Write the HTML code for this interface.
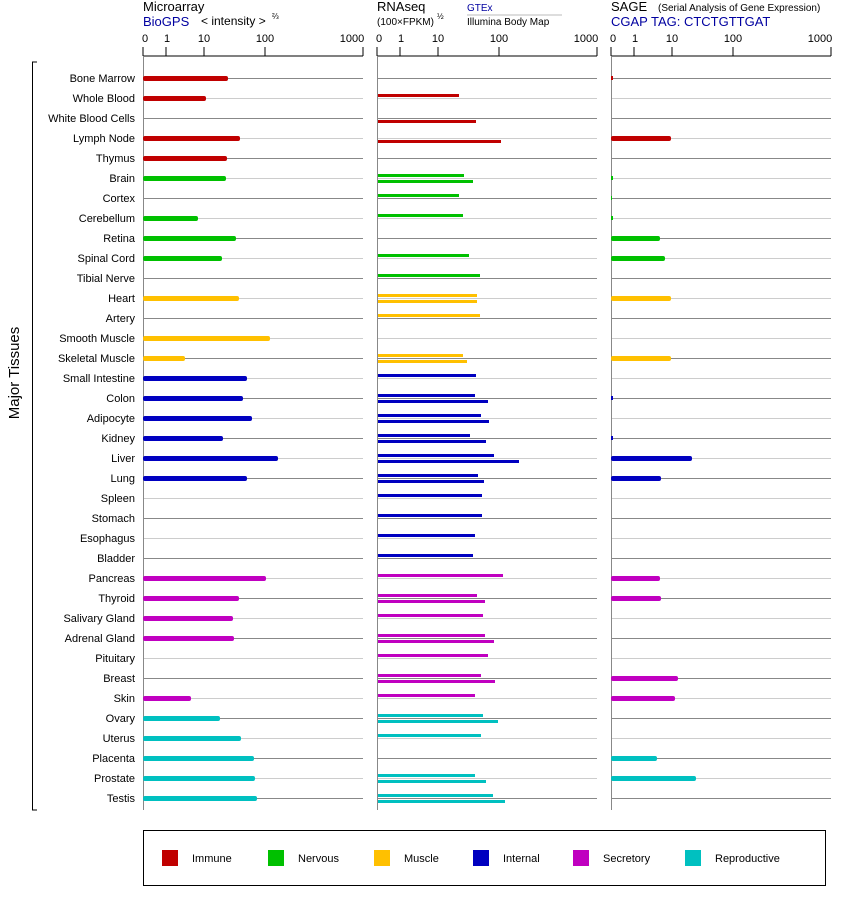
<!DOCTYPE html>
<html><head><meta charset="utf-8"><style>
body{margin:0;background:#fff}
svg{display:block;font-family:"Liberation Sans",Arial,sans-serif}
.l{font-size:11px;text-anchor:end}
.t{font-size:11px;text-anchor:middle}
</style></head><body>
<svg width="842" height="900" viewBox="0 0 842 900">
<rect width="842" height="900" fill="#fff"/>
<!-- headers -->
<text x="143" y="11" font-size="13">Microarray</text>
<text x="143" y="26" font-size="13" fill="#0000a0">BioGPS</text>
<text x="201" y="25" font-size="12">&lt; intensity &gt;</text>
<text x="272" y="19" font-size="8">⅔</text>
<text x="377" y="11" font-size="13">RNAseq</text>
<text x="377" y="25" font-size="10">(100×FPKM)</text>
<text x="437" y="19" font-size="8">½</text>
<text x="467" y="11" font-size="10" fill="#0000a0">GTEx</text>
<line x1="467" y1="15" x2="562" y2="15" stroke="#bbb"/>
<text x="467" y="25" font-size="10">Illumina Body Map</text>
<text x="611" y="11" font-size="13">SAGE</text>
<text x="658" y="11" font-size="10">(Serial Analysis of Gene Expression)</text>
<text x="611" y="26" font-size="13" fill="#0000a0">CGAP TAG: CTCTGTTGAT</text>
<!-- axes ticks -->
<g stroke="#000" fill="none">
<path d="M143 56H363M143 47V56M166 47V56M204 47V56M265 47V56M363 47V56"/>
<path d="M377 56H597M377 47V56M400 47V56M438 47V56M499 47V56M597 47V56"/>
<path d="M611 56H831M611 47V56M634 47V56M672 47V56M733 47V56M831 47V56"/>
</g>
<g class="t">
<text class="t" x="145" y="42">0</text><text class="t" x="167" y="42">1</text><text class="t" x="204" y="42">10</text><text class="t" x="265" y="42">100</text><text class="t" x="352" y="42">1000</text>
<text class="t" x="379" y="42">0</text><text class="t" x="401" y="42">1</text><text class="t" x="438" y="42">10</text><text class="t" x="499" y="42">100</text><text class="t" x="586" y="42">1000</text>
<text class="t" x="613" y="42">0</text><text class="t" x="635" y="42">1</text><text class="t" x="672" y="42">10</text><text class="t" x="733" y="42">100</text><text class="t" x="820" y="42">1000</text>
</g>
<!-- gridlines -->
<g stroke-width="1">
<path stroke="#888" d="M143 78.5H363M377 78.5H597M611 78.5H831M143 118.5H363M377 118.5H597M611 118.5H831M143 158.5H363M377 158.5H597M611 158.5H831M143 198.5H363M377 198.5H597M611 198.5H831M143 238.5H363M377 238.5H597M611 238.5H831M143 278.5H363M377 278.5H597M611 278.5H831M143 318.5H363M377 318.5H597M611 318.5H831M143 358.5H363M377 358.5H597M611 358.5H831M143 398.5H363M377 398.5H597M611 398.5H831M143 438.5H363M377 438.5H597M611 438.5H831M143 478.5H363M377 478.5H597M611 478.5H831M143 518.5H363M377 518.5H597M611 518.5H831M143 558.5H363M377 558.5H597M611 558.5H831M143 598.5H363M377 598.5H597M611 598.5H831M143 638.5H363M377 638.5H597M611 638.5H831M143 678.5H363M377 678.5H597M611 678.5H831M143 718.5H363M377 718.5H597M611 718.5H831M143 758.5H363M377 758.5H597M611 758.5H831M143 798.5H363M377 798.5H597M611 798.5H831"/>
<path stroke="#ccc" d="M143 98.5H363M377 98.5H597M611 98.5H831M143 138.5H363M377 138.5H597M611 138.5H831M143 178.5H363M377 178.5H597M611 178.5H831M143 218.5H363M377 218.5H597M611 218.5H831M143 258.5H363M377 258.5H597M611 258.5H831M143 298.5H363M377 298.5H597M611 298.5H831M143 338.5H363M377 338.5H597M611 338.5H831M143 378.5H363M377 378.5H597M611 378.5H831M143 418.5H363M377 418.5H597M611 418.5H831M143 458.5H363M377 458.5H597M611 458.5H831M143 498.5H363M377 498.5H597M611 498.5H831M143 538.5H363M377 538.5H597M611 538.5H831M143 578.5H363M377 578.5H597M611 578.5H831M143 618.5H363M377 618.5H597M611 618.5H831M143 658.5H363M377 658.5H597M611 658.5H831M143 698.5H363M377 698.5H597M611 698.5H831M143 738.5H363M377 738.5H597M611 738.5H831M143 778.5H363M377 778.5H597M611 778.5H831"/>
<path stroke="#888" d="M143.5 56V810M377.5 56V810M611.5 56V810"/>
</g>
<!-- bracket and title -->
<path d="M37 62H32.5V810H37" stroke="#000" fill="none"/>
<text x="19" y="373" font-size="15" text-anchor="middle" transform="rotate(-90 19 373)">Major Tissues</text>
<!-- labels -->
<g>
<text class="l" x="135" y="82">Bone Marrow</text>
<text class="l" x="135" y="102">Whole Blood</text>
<text class="l" x="135" y="122">White Blood Cells</text>
<text class="l" x="135" y="142">Lymph Node</text>
<text class="l" x="135" y="162">Thymus</text>
<text class="l" x="135" y="182">Brain</text>
<text class="l" x="135" y="202">Cortex</text>
<text class="l" x="135" y="222">Cerebellum</text>
<text class="l" x="135" y="242">Retina</text>
<text class="l" x="135" y="262">Spinal Cord</text>
<text class="l" x="135" y="282">Tibial Nerve</text>
<text class="l" x="135" y="302">Heart</text>
<text class="l" x="135" y="322">Artery</text>
<text class="l" x="135" y="342">Smooth Muscle</text>
<text class="l" x="135" y="362">Skeletal Muscle</text>
<text class="l" x="135" y="382">Small Intestine</text>
<text class="l" x="135" y="402">Colon</text>
<text class="l" x="135" y="422">Adipocyte</text>
<text class="l" x="135" y="442">Kidney</text>
<text class="l" x="135" y="462">Liver</text>
<text class="l" x="135" y="482">Lung</text>
<text class="l" x="135" y="502">Spleen</text>
<text class="l" x="135" y="522">Stomach</text>
<text class="l" x="135" y="542">Esophagus</text>
<text class="l" x="135" y="562">Bladder</text>
<text class="l" x="135" y="582">Pancreas</text>
<text class="l" x="135" y="602">Thyroid</text>
<text class="l" x="135" y="622">Salivary Gland</text>
<text class="l" x="135" y="642">Adrenal Gland</text>
<text class="l" x="135" y="662">Pituitary</text>
<text class="l" x="135" y="682">Breast</text>
<text class="l" x="135" y="702">Skin</text>
<text class="l" x="135" y="722">Ovary</text>
<text class="l" x="135" y="742">Uterus</text>
<text class="l" x="135" y="762">Placenta</text>
<text class="l" x="135" y="782">Prostate</text>
<text class="l" x="135" y="802">Testis</text>
</g>
<!-- microarray bars -->
<g>
<rect x="143" y="76" width="85" height="5" rx="2" fill="#c00000"/>
<rect x="143" y="96" width="63" height="5" rx="2" fill="#c00000"/>
<rect x="143" y="136" width="97" height="5" rx="2" fill="#c00000"/>
<rect x="143" y="156" width="84" height="5" rx="2" fill="#c00000"/>
<rect x="143" y="176" width="83" height="5" rx="2" fill="#00c000"/>
<rect x="143" y="216" width="55" height="5" rx="2" fill="#00c000"/>
<rect x="143" y="236" width="93" height="5" rx="2" fill="#00c000"/>
<rect x="143" y="256" width="79" height="5" rx="2" fill="#00c000"/>
<rect x="143" y="296" width="96" height="5" rx="2" fill="#ffc000"/>
<rect x="143" y="336" width="127" height="5" rx="2" fill="#ffc000"/>
<rect x="143" y="356" width="42" height="5" rx="2" fill="#ffc000"/>
<rect x="143" y="376" width="104" height="5" rx="2" fill="#0000c0"/>
<rect x="143" y="396" width="100" height="5" rx="2" fill="#0000c0"/>
<rect x="143" y="416" width="109" height="5" rx="2" fill="#0000c0"/>
<rect x="143" y="436" width="80" height="5" rx="2" fill="#0000c0"/>
<rect x="143" y="456" width="135" height="5" rx="2" fill="#0000c0"/>
<rect x="143" y="476" width="104" height="5" rx="2" fill="#0000c0"/>
<rect x="143" y="576" width="123" height="5" rx="2" fill="#c000c0"/>
<rect x="143" y="596" width="96" height="5" rx="2" fill="#c000c0"/>
<rect x="143" y="616" width="90" height="5" rx="2" fill="#c000c0"/>
<rect x="143" y="636" width="91" height="5" rx="2" fill="#c000c0"/>
<rect x="143" y="696" width="48" height="5" rx="2" fill="#c000c0"/>
<rect x="143" y="716" width="77" height="5" rx="2" fill="#00c0c0"/>
<rect x="143" y="736" width="98" height="5" rx="2" fill="#00c0c0"/>
<rect x="143" y="756" width="111" height="5" rx="2" fill="#00c0c0"/>
<rect x="143" y="776" width="112" height="5" rx="2" fill="#00c0c0"/>
<rect x="143" y="796" width="114" height="5" rx="2" fill="#00c0c0"/>
</g>
<!-- RNAseq bars -->
<g>
<rect x="378" y="94" width="81" height="3" fill="#c00000"/>
<rect x="378" y="120" width="98" height="3" fill="#c00000"/>
<rect x="378" y="140" width="123" height="3" fill="#c00000"/>
<rect x="378" y="174" width="86" height="3" fill="#00c000"/>
<rect x="378" y="180" width="95" height="3" fill="#00c000"/>
<rect x="378" y="194" width="81" height="3" fill="#00c000"/>
<rect x="378" y="214" width="85" height="3" fill="#00c000"/>
<rect x="378" y="254" width="91" height="3" fill="#00c000"/>
<rect x="378" y="274" width="102" height="3" fill="#00c000"/>
<rect x="378" y="294" width="99" height="3" fill="#ffc000"/>
<rect x="378" y="300" width="99" height="3" fill="#ffc000"/>
<rect x="378" y="314" width="102" height="3" fill="#ffc000"/>
<rect x="378" y="354" width="85" height="3" fill="#ffc000"/>
<rect x="378" y="360" width="89" height="3" fill="#ffc000"/>
<rect x="378" y="374" width="98" height="3" fill="#0000c0"/>
<rect x="378" y="394" width="97" height="3" fill="#0000c0"/>
<rect x="378" y="400" width="110" height="3" fill="#0000c0"/>
<rect x="378" y="414" width="103" height="3" fill="#0000c0"/>
<rect x="378" y="420" width="111" height="3" fill="#0000c0"/>
<rect x="378" y="434" width="92" height="3" fill="#0000c0"/>
<rect x="378" y="440" width="108" height="3" fill="#0000c0"/>
<rect x="378" y="454" width="116" height="3" fill="#0000c0"/>
<rect x="378" y="460" width="141" height="3" fill="#0000c0"/>
<rect x="378" y="474" width="100" height="3" fill="#0000c0"/>
<rect x="378" y="480" width="106" height="3" fill="#0000c0"/>
<rect x="378" y="494" width="104" height="3" fill="#0000c0"/>
<rect x="378" y="514" width="104" height="3" fill="#0000c0"/>
<rect x="378" y="534" width="97" height="3" fill="#0000c0"/>
<rect x="378" y="554" width="95" height="3" fill="#0000c0"/>
<rect x="378" y="574" width="125" height="3" fill="#c000c0"/>
<rect x="378" y="594" width="99" height="3" fill="#c000c0"/>
<rect x="378" y="600" width="107" height="3" fill="#c000c0"/>
<rect x="378" y="614" width="105" height="3" fill="#c000c0"/>
<rect x="378" y="634" width="107" height="3" fill="#c000c0"/>
<rect x="378" y="640" width="116" height="3" fill="#c000c0"/>
<rect x="378" y="654" width="110" height="3" fill="#c000c0"/>
<rect x="378" y="674" width="103" height="3" fill="#c000c0"/>
<rect x="378" y="680" width="117" height="3" fill="#c000c0"/>
<rect x="378" y="694" width="97" height="3" fill="#c000c0"/>
<rect x="378" y="714" width="105" height="3" fill="#00c0c0"/>
<rect x="378" y="720" width="120" height="3" fill="#00c0c0"/>
<rect x="378" y="734" width="103" height="3" fill="#00c0c0"/>
<rect x="378" y="774" width="97" height="3" fill="#00c0c0"/>
<rect x="378" y="780" width="108" height="3" fill="#00c0c0"/>
<rect x="378" y="794" width="115" height="3" fill="#00c0c0"/>
<rect x="378" y="800" width="127" height="3" fill="#00c0c0"/>
</g>
<!-- SAGE bars -->
<g>
<rect x="611" y="76" width="2" height="4" fill="#c00000"/>
<rect x="611" y="136" width="60" height="5" rx="2" fill="#c00000"/>
<rect x="611" y="176" width="2" height="4" fill="#00c000"/>
<rect x="611" y="196" width="1" height="4" fill="#00c000"/>
<rect x="611" y="216" width="2" height="4" fill="#00c000"/>
<rect x="611" y="236" width="49" height="5" rx="2" fill="#00c000"/>
<rect x="611" y="256" width="54" height="5" rx="2" fill="#00c000"/>
<rect x="611" y="296" width="60" height="5" rx="2" fill="#ffc000"/>
<rect x="611" y="356" width="60" height="5" rx="2" fill="#ffc000"/>
<rect x="611" y="396" width="2" height="4" fill="#0000c0"/>
<rect x="611" y="436" width="2" height="4" fill="#0000c0"/>
<rect x="611" y="456" width="81" height="5" rx="2" fill="#0000c0"/>
<rect x="611" y="476" width="50" height="5" rx="2" fill="#0000c0"/>
<rect x="611" y="576" width="49" height="5" rx="2" fill="#c000c0"/>
<rect x="611" y="596" width="50" height="5" rx="2" fill="#c000c0"/>
<rect x="611" y="676" width="67" height="5" rx="2" fill="#c000c0"/>
<rect x="611" y="696" width="64" height="5" rx="2" fill="#c000c0"/>
<rect x="611" y="756" width="46" height="5" rx="2" fill="#00c0c0"/>
<rect x="611" y="776" width="85" height="5" rx="2" fill="#00c0c0"/>
</g>
<!-- legend -->
<rect x="143.5" y="830.5" width="682" height="55" fill="none" stroke="#000"/>
<g font-size="11">
<rect x="162" y="850" width="16" height="16" fill="#c00000"/><text x="192" y="862">Immune</text>
<rect x="268" y="850" width="16" height="16" fill="#00c000"/><text x="298" y="862">Nervous</text>
<rect x="374" y="850" width="16" height="16" fill="#ffc000"/><text x="404" y="862">Muscle</text>
<rect x="473" y="850" width="16" height="16" fill="#0000c0"/><text x="503" y="862">Internal</text>
<rect x="573" y="850" width="16" height="16" fill="#c000c0"/><text x="603" y="862">Secretory</text>
<rect x="685" y="850" width="16" height="16" fill="#00c0c0"/><text x="715" y="862">Reproductive</text>
</g>
</svg>
</body></html>
